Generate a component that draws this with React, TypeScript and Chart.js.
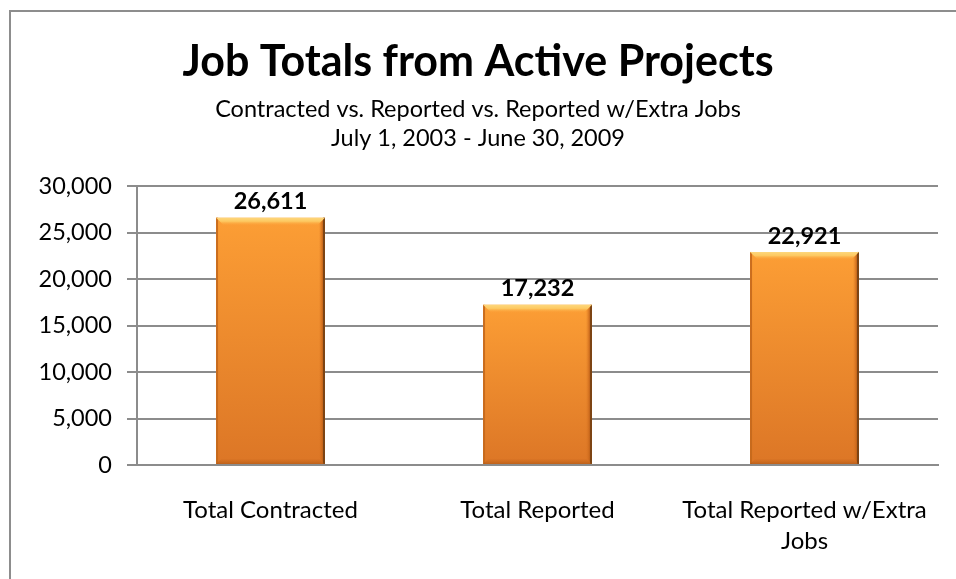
import React, { useEffect, useRef } from "react";
import { Chart, registerables } from "chart.js";

Chart.register(...registerables);

const categories: (string | string[])[] = [
  "Total Contracted",
  "Total Reported",
  ["Total Reported w/Extra", "Jobs"],
];
const jobTotals = [26611, 17232, 22921];
const yTickValues = [0, 5000, 10000, 15000, 20000, 25000, 30000];
const titleText = "Job Totals from Active Projects";
const subtitleLines = [
  "Contracted vs. Reported vs. Reported w/Extra Jobs",
  "July 1, 2003 - June 30, 2009",
];

const FONT = "Lato, 'Noto Sans', sans-serif";
const GRID = "#8c8c8c";

const fmt = (v: number) => v.toLocaleString("en-US");

const bevelPlugin = {
  id: "bevel",
  afterDatasetsDraw(chart: any) {
    const ctx = chart.ctx as CanvasRenderingContext2D;
    const meta = chart.getDatasetMeta(0);
    meta.data.forEach((bar: any) => {
      const { x, y, base, width } = bar.getProps(["x", "y", "base", "width"], true);
      if (![x, y, base, width].every((n) => Number.isFinite(n))) return;
      const l = x - width / 2;
      const r = x + width / 2;
      const t = y;
      const b = base;
      ctx.save();
      // left edge
      ctx.fillStyle = "rgba(196,104,28,0.9)";
      ctx.fillRect(l, t, 2, b - t);
      // right bevel
      const rb = 6;
      const gr = ctx.createLinearGradient(r - rb, 0, r, 0);
      gr.addColorStop(0, "rgba(214,112,30,0)");
      gr.addColorStop(0.6, "rgba(196,100,26,0.85)");
      gr.addColorStop(1, "rgba(160,80,20,1)");
      ctx.beginPath();
      ctx.moveTo(r, t);
      ctx.lineTo(r, b);
      ctx.lineTo(r - rb, b - rb);
      ctx.lineTo(r - rb, t + rb);
      ctx.closePath();
      ctx.fillStyle = gr;
      ctx.fill();
      ctx.fillStyle = "#7c4414";
      ctx.fillRect(r - 2, t, 2, b - t);
      // bottom bevel
      const bb = 5;
      const gb = ctx.createLinearGradient(0, b - bb, 0, b);
      gb.addColorStop(0, "rgba(190,96,24,0.1)");
      gb.addColorStop(1, "rgba(170,84,20,0.6)");
      ctx.beginPath();
      ctx.moveTo(l, b);
      ctx.lineTo(r, b);
      ctx.lineTo(r - bb, b - bb);
      ctx.lineTo(l + bb, b - bb);
      ctx.closePath();
      ctx.fillStyle = gb;
      ctx.fill();
      // top bevel
      const tb = 8;
      const gt = ctx.createLinearGradient(0, t, 0, t + tb);
      gt.addColorStop(0, "#fdd77c");
      gt.addColorStop(0.45, "#fdc962");
      gt.addColorStop(1, "rgba(252,160,56,0)");
      ctx.beginPath();
      ctx.moveTo(l, t);
      ctx.lineTo(r, t);
      ctx.lineTo(r - tb, t + tb);
      ctx.lineTo(l + tb, t + tb);
      ctx.closePath();
      ctx.fillStyle = gt;
      ctx.fill();
      ctx.restore();
    });
  },
};

const valueLabelPlugin = {
  id: "valueLabels",
  afterDatasetsDraw(chart: any) {
    const ctx = chart.ctx as CanvasRenderingContext2D;
    const meta = chart.getDatasetMeta(0);
    const data = chart.data.datasets[0].data as number[];
    ctx.save();
    ctx.font = `bold 23.5px ${FONT}`;
    ctx.fillStyle = "#000";
    ctx.textAlign = "center";
    ctx.textBaseline = "middle";
    meta.data.forEach((bar: any, i: number) => {
      if (!Number.isFinite(bar.x) || !Number.isFinite(bar.y)) return;
      ctx.fillText(fmt(data[i]), bar.x, bar.y - 16);
    });
    ctx.restore();
  },
};

export default function App() {
  const ref = useRef<HTMLCanvasElement | null>(null);

  useEffect(() => {
    if (!ref.current) return;
    const chart = new Chart(ref.current, {
      type: "bar",
      data: {
        labels: categories as any,
        datasets: [
          {
            data: jobTotals,
            backgroundColor: (c: any) => {
              const chartObj = c.chart;
              const ys = chartObj.scales && chartObj.scales.y;
              if (!ys || c.dataIndex === undefined) return "#f28a2c";
              const top = ys.getPixelForValue(jobTotals[c.dataIndex]);
              const bottom = ys.getPixelForValue(0);
              if (!Number.isFinite(top) || !Number.isFinite(bottom) || top === bottom) return "#f28a2c";
              const g = chartObj.ctx.createLinearGradient(0, top, 0, bottom);
              g.addColorStop(0, "#fc9e35");
              g.addColorStop(1, "#dc7626");
              return g;
            },
            borderWidth: 0,
            categoryPercentage: 1,
            barPercentage: 0.408,
          },
        ],
      },
      options: {
        animation: false,
        responsive: false,
        maintainAspectRatio: false,
        layout: { padding: { top: 10, left: 18, right: 18, bottom: 0 } },
        plugins: {
          legend: { display: false },
          tooltip: { enabled: false },
          title: {
            display: true,
            text: titleText,
            color: "#000",
            font: { family: FONT, size: 43, weight: "bold", lineHeight: 1.12 },
            padding: { top: 28, bottom: 0 },
          },
          subtitle: {
            display: true,
            text: subtitleLines,
            color: "#000",
            font: { family: FONT, size: 23.5, lineHeight: 29 / 23.5 },
            padding: { top: 8.5, bottom: 33.5 },
          },
        },
        scales: {
          x: {
            grid: { display: false, drawTicks: false },
            border: { display: true, color: GRID, width: 2 },
            afterFit: (scale: any) => {
              scale.height = 114;
              scale.paddingLeft = 0;
              scale.paddingRight = 0;
            },
            ticks: {
              color: "#000",
              font: { family: FONT, size: 24, lineHeight: 31 / 24 },
              padding: 29.5,
              maxRotation: 0,
              minRotation: 0,
              autoSkip: false,
            },
          },
          y: {
            min: 0,
            max: 30000,
            afterBuildTicks: (scale: any) => {
              scale.ticks = yTickValues.map((v) => ({ value: v }));
            },
            afterFit: (scale: any) => {
              scale.width = 119;
            },
            grid: { color: GRID, lineWidth: 2, tickLength: 10, drawTicks: true },
            border: { display: true, color: GRID, width: 2 },
            ticks: {
              color: "#000",
              font: { family: FONT, size: 23.5 },
              padding: 15,
              callback: (v: any) => fmt(Number(v)),
            },
          },
        },
      },
      plugins: [bevelPlugin, valueLabelPlugin],
    });
    return () => chart.destroy();
  }, []);

  return (
    <div style={{ position: "absolute", left: 0, top: 0, width: 956, height: 579, overflow: "hidden", background: "#fff" }}>
      <div
        style={{
          position: "absolute",
          left: 9,
          top: 10,
          width: 960,
          height: 600,
          borderLeft: "2px solid #8d8d8d",
          borderTop: "2px solid #8d8d8d",
        }}
      />
      <canvas
        ref={ref}
        width={956}
        height={579}
        style={{ position: "absolute", left: 0, top: 0, width: 956, height: 579 }}
      />
    </div>
  );
}
